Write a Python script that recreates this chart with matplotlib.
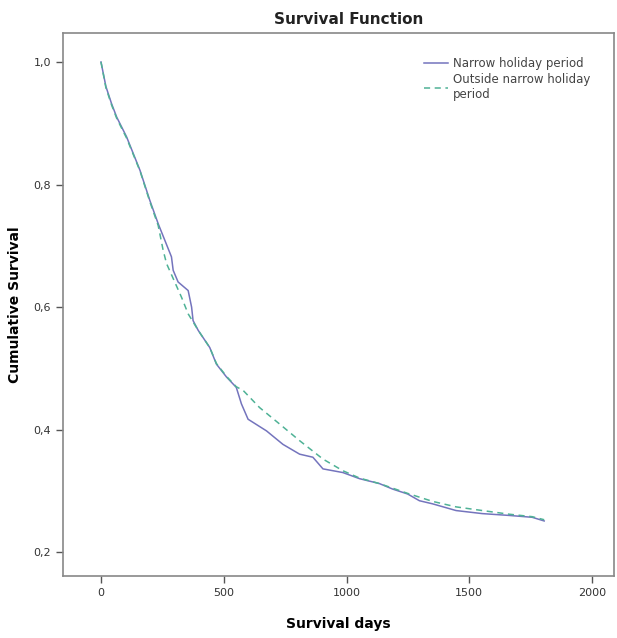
import matplotlib.pyplot as plt
from matplotlib.ticker import FuncFormatter

# Narrow holiday period (solid)
narrow_days = [0, 20, 43, 64, 104, 159, 199, 233, 260, 287, 294, 314, 355, 369, 375,
               396, 443, 470, 511, 551, 572, 599, 674, 741, 809, 863, 904, 985,
               1053, 1134, 1188, 1249, 1297, 1350, 1446, 1553, 1663, 1756, 1805]
narrow_surv = [1.0, 0.96, 0.932, 0.91, 0.878, 0.823, 0.774, 0.736, 0.709, 0.682, 0.660,
               0.641, 0.627, 0.600, 0.578, 0.562, 0.534, 0.507, 0.486, 0.469, 0.442,
               0.417, 0.398, 0.376, 0.360, 0.355, 0.336, 0.330, 0.320, 0.312,
               0.303, 0.295, 0.284, 0.279, 0.268, 0.263, 0.260, 0.257, 0.251]

# Outside narrow holiday period (dashed)
outside_days = [0, 20, 43, 64, 104, 159, 199, 233, 253, 267, 328, 355, 396, 443, 470,
                511, 551, 579, 646, 728, 809, 904, 985, 1053, 1134, 1249, 1350, 1446,
                1553, 1663, 1756, 1805]
outside_surv = [1.0, 0.958, 0.930, 0.908, 0.876, 0.822, 0.772, 0.733, 0.693, 0.671,
                0.616, 0.589, 0.562, 0.534, 0.508, 0.487, 0.470, 0.464, 0.436, 0.409,
                0.382, 0.352, 0.333, 0.321, 0.312, 0.296, 0.283, 0.274, 0.268, 0.262,
                0.258, 0.253]

fig = plt.figure(figsize=(6.17, 6.38), dpi=100)
ax = fig.add_axes([0.102, 0.097, 0.893, 0.851])

ax.plot(narrow_days, narrow_surv, color="#7474bd", lw=1.1, label="Narrow holiday period")
ax.plot(outside_days, outside_surv, color="#4fb296", lw=1.1, ls=(0, (4, 3)),
        label="Outside narrow holiday\nperiod")

ax.set_xlim(-155, 2089)
ax.set_ylim(0.161, 1.047)
ax.set_xticks([0, 500, 1000, 1500, 2000])
ax.set_yticks([0.2, 0.4, 0.6, 0.8, 1.0])
ax.yaxis.set_major_formatter(FuncFormatter(lambda v, p: f"{v:.1f}".replace(".", ",")))
ax.tick_params(direction="out", length=5, width=1, color="#555555",
               labelsize=8, labelcolor="#333333")
for spine in ax.spines.values():
    spine.set_edgecolor("#888888")
    spine.set_linewidth(1.2)

fig.text(0.565, 0.97, "Survival Function", ha="center", va="center",
         fontsize=11, fontweight="bold", color="#222222")
ax.set_xlabel("Survival days", fontsize=10, fontweight="bold")
ax.set_ylabel("Cumulative Survival", fontsize=10, fontweight="bold")
ax.xaxis.set_label_coords(0.5, -0.076)
ax.yaxis.set_label_coords(-0.074, 0.5)

ax.legend(loc="upper right", bbox_to_anchor=(0.965, 0.965), borderaxespad=0,
          frameon=False, fontsize=8.5, handlelength=2.0, handletextpad=0.4,
          labelspacing=0.3, labelcolor="#444444")

plt.savefig("out.png", dpi=100, facecolor="white")
